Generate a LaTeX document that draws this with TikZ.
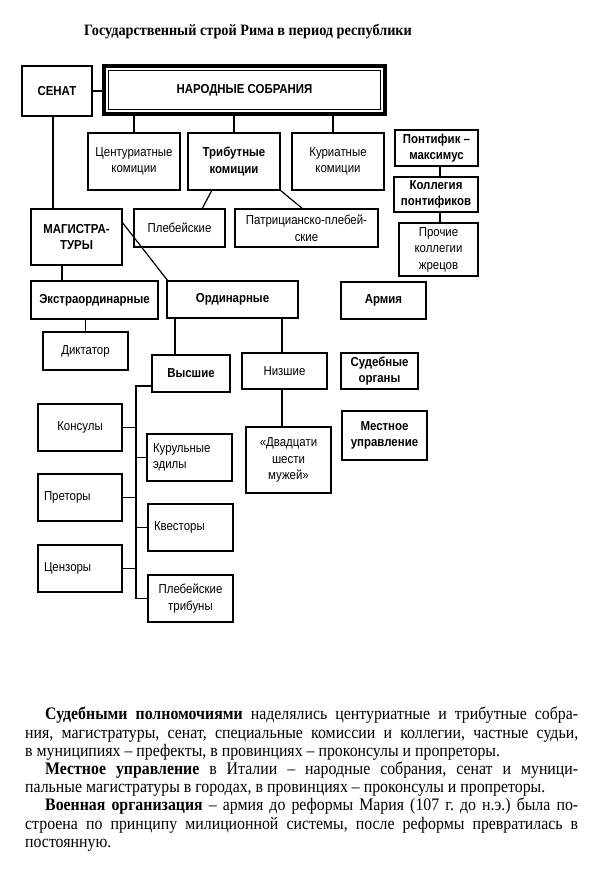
\documentclass[tikz,border=0pt]{standalone}
\usepackage{fontspec}
\setmainfont{Liberation Serif}[FakeStretch=0.9]
\newfontfamily\bxf{Liberation Sans}[FakeStretch=0.88]
\tikzset{
  bx/.style={draw, line width=1.25pt, inner sep=0pt, outer sep=0pt, align=center,
    font=\bxf\fontsize{13}{16.5}\selectfont},
  bb/.style={bx, font=\bxf\bfseries\fontsize{13}{16.5}\selectfont},
  lb/.style={bx, align=left, inner xsep=6pt, text width=#1},
  thk/.style={line width=2.1pt},
  ln/.style={line width=1.2pt},
}
\begin{document}
\begin{tikzpicture}[x=1pt,y=-1pt]
\useasboundingbox (0,0) rectangle (613,880);
\fill[white] (0,0) rectangle (613,880);

\node[font=\bfseries\fontsize{15.8}{18}\selectfont, inner sep=0pt] (title) at (248,32) {Государственный строй Рима в период республики};

% top row
\node[bb, minimum width=70pt, minimum height=50pt] (senat) at (57,91) {СЕНАТ};
\node[bb, line width=3.5pt, minimum width=281pt, minimum height=48pt] (ns) at (244.5,90) {НАРОДНЫЕ СОБРАНИЯ};
\draw[line width=1pt] ([shift={(4.5,4.5)}]ns.north west) rectangle ([shift={(-4.5,-4.5)}]ns.south east);
\draw[ln] (senat.east) -- (senat.east -| ns.west);

% comitia
\node[bx, minimum width=92pt, minimum height=57pt] (cent) at (134,161.5) {Центуриатные\\комиции};
\node[bb, minimum width=92pt, minimum height=57pt] (trib) at (234,161.5) {Трибутные\\комиции};
\node[bx, minimum width=92pt, minimum height=57pt] (kur) at (338,161.5) {Куриатные\\комиции};
\draw[ln] (cent.north) -- (cent.north |- ns.south);
\draw[ln] (trib.north) -- (trib.north |- ns.south);
\draw[ln] ([xshift=-5]kur.north) -- ([xshift=-5]kur.north |- ns.south);

% pontifex column
\node[bb, line width=1.7pt, minimum width=83pt, minimum height=36pt] (pont) at (436.5,148) {Понтифик –\\максимус};
\node[bb, minimum width=84pt, minimum height=35pt] (koll) at (436,194.5) {Коллегия\\понтификов};
\node[bx, minimum width=79pt, minimum height=53pt] (proch) at (438.5,249.5) {Прочие\\коллегии\\жрецов};
\draw[ln] ([xshift=4]koll.north) -- ([xshift=4]koll.north |- pont.south);
\draw[ln] ([xshift=4]koll.south) -- ([xshift=4]koll.south |- proch.north);

% tribute comitia kinds
\node[bx, minimum width=91pt, minimum height=38pt] (pleb) at (179.5,228) {Плебейские};
\node[bx, minimum width=143pt, minimum height=38pt] (patr) at (306.5,228) {Патрицианско-плебей-\\ские};
\draw[ln] ([xshift=-22]trib.south) -- ([xshift=22.5]pleb.north);
\draw[ln] (trib.south east) -- ([xshift=-3.5]patr.north);

% magistrates
\node[bb, thk, minimum width=91pt, minimum height=56pt] (mag) at (76.5,237) {МАГИСТРА-\\ТУРЫ};
\draw[ln] ([xshift=-4]senat.south) -- ([xshift=-4]senat.south |- mag.north);
\node[bb, minimum width=127pt, minimum height=38pt] (ekstra) at (94.5,300) {Экстраординарные};
\node[bb, minimum width=131pt, minimum height=37pt] (ord) at (232.5,299.5) {Ординарные};
\draw[ln] ([xshift=-14.5]mag.south) -- ([xshift=-14.5]mag.south |- ekstra.north);
\draw[ln] ([yshift=15]mag.east) -- ([xshift=1]ord.north west);
\node[bb, thk, minimum width=85pt, minimum height=37pt] (army) at (383.5,300.5) {Армия};
\node[bx, minimum width=85pt, minimum height=38pt] (dikt) at (85.5,351) {Диктатор};
\draw[ln] (dikt.north) -- (dikt.north |- ekstra.south);
\node[bb, minimum width=78pt, minimum height=37pt] (vys) at (191,373.5) {Высшие};
\draw[ln] ([xshift=-16]vys.north) -- ([xshift=-16]vys.north |- ord.south);
\node[bx, minimum width=85pt, minimum height=36pt] (niz) at (284.5,371) {Низшие};
\draw[ln] ([xshift=-2.5]niz.north) -- ([xshift=-2.5]niz.north |- ord.south);
\node[bb, thk, minimum width=77pt, minimum height=36pt] (sud) at (379.5,371) {Судебные\\органы};
\node[bb, thk, minimum width=85pt, minimum height=49pt] (mest) at (384.5,435.5) {Местное\\управление};
\node[bx, minimum width=85pt, minimum height=66pt] (dvad) at (288.5,460) {«Двадцати\\шести\\мужей»};
\draw[ln] ([xshift=-6.5]dvad.north) -- ([xshift=-6.5]dvad.north |- niz.south);

% higher magistrates
\node[bx, minimum width=84pt, minimum height=47pt] (kons) at (80,427.5) {Консулы};
\node[lb=73pt, minimum width=85pt, minimum height=47pt] (kur2) at (189.5,457.5) {Курульные\\эдилы};
\node[lb=72pt, minimum width=84pt, minimum height=47pt] (pret) at (80,497.5) {Преторы};
\node[lb=73pt, minimum width=85pt, minimum height=47pt] (kvest) at (190.5,527.5) {Квесторы};
\node[lb=72pt, minimum width=84pt, minimum height=47pt] (cenz) at (80,568.5) {Цензоры};
\node[bx, minimum width=85pt, minimum height=47pt] (trib2) at (190.5,598.5) {Плебейские\\трибуны};
\coordinate (st) at (136,386);
\draw[ln] (vys.west |- st) -- (st) -- (st |- trib2.west) -- (trib2.west);
\draw[ln] (kons.east) -- (kons.east -| st);
\draw[ln] (pret.east) -- (pret.east -| st);
\draw[ln] (cenz.east) -- (cenz.east -| st);
\draw[ln] (kur2.west) -- (kur2.west -| st);
\draw[ln] (kvest.west) -- (kvest.west -| st);

% text
\node[inner sep=0pt, anchor=north west] (para) at (25,707) {\parbox[t]{553pt}{\fontsize{17.6}{18.2}\selectfont
\frenchspacing\hyphenpenalty=10000 \emergencystretch=10pt
\setlength{\parindent}{20pt}\indent
\textbf{Судебными полномочиями} наделялись центуриатные и трибутные собра-\linebreak
ния, магистратуры, сенат, специальные комиссии и коллегии, частные судьи,\linebreak
в муниципиях – префекты, в провинциях – проконсулы и пропреторы.\par
\textbf{Местное управление} в Италии – народные собрания, сенат и муници-\linebreak
пальные магистратуры в городах, в провинциях – проконсулы и пропреторы.\par
\textbf{Военная организация} – армия до реформы Мария (107 г. до н.э.) была по-\linebreak
строена по принципу милиционной системы, после реформы превратилась в\linebreak
постоянную.}};
\end{tikzpicture}
\end{document}
